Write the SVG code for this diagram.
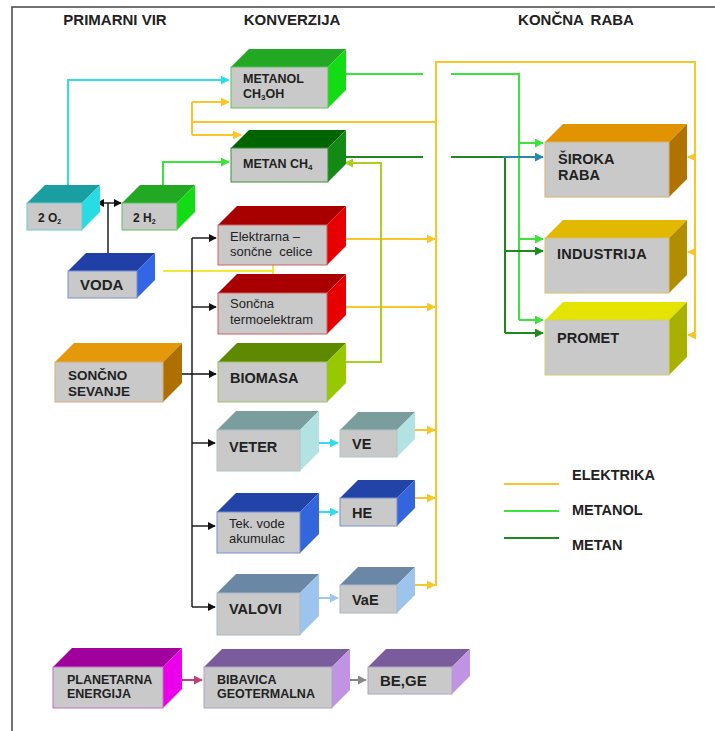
<svg xmlns="http://www.w3.org/2000/svg" width="715" height="731" viewBox="0 0 715 731">
<defs>
<style>
text{font-family:"Liberation Sans",Arial,sans-serif;fill:#222}
.hd{font-size:15px;font-weight:bold}
.b{font-weight:bold}
.f{fill:#c9c9c9;stroke-width:1}
.c{fill:none;stroke-width:2}
.k{stroke:#111;stroke-width:1.4;fill:none}
.y{stroke:#f7c62a}
.g{stroke:#3be43b}
.dg{stroke:#1e8a1e}
</style>
<marker id="ak" viewBox="0 0 10 10" refX="9" refY="5" markerWidth="8" markerHeight="8" markerUnits="userSpaceOnUse" orient="auto-start-reverse"><path d="M0,0L10,5L0,10z" fill="#111"/></marker>
<marker id="ay" viewBox="0 0 10 10" refX="9" refY="5" markerWidth="9" markerHeight="9" markerUnits="userSpaceOnUse" orient="auto"><path d="M0,0L10,5L0,10z" fill="#f7c62a"/></marker>
<marker id="ag" viewBox="0 0 10 10" refX="9" refY="5" markerWidth="9" markerHeight="9" markerUnits="userSpaceOnUse" orient="auto"><path d="M0,0L10,5L0,10z" fill="#3be43b"/></marker>
<marker id="adg" viewBox="0 0 10 10" refX="9" refY="5" markerWidth="9" markerHeight="9" markerUnits="userSpaceOnUse" orient="auto"><path d="M0,0L10,5L0,10z" fill="#1e8a1e"/></marker>
<marker id="ac" viewBox="0 0 10 10" refX="9" refY="5" markerWidth="9" markerHeight="9" markerUnits="userSpaceOnUse" orient="auto"><path d="M0,0L10,5L0,10z" fill="#33dcec"/></marker>
<marker id="at" viewBox="0 0 10 10" refX="9" refY="5" markerWidth="9" markerHeight="9" markerUnits="userSpaceOnUse" orient="auto"><path d="M0,0L10,5L0,10z" fill="#2a88aa"/></marker>
<marker id="ayg" viewBox="0 0 10 10" refX="9" refY="5" markerWidth="9" markerHeight="9" markerUnits="userSpaceOnUse" orient="auto"><path d="M0,0L10,5L0,10z" fill="#a8d020"/></marker>
<marker id="alb" viewBox="0 0 10 10" refX="9" refY="5" markerWidth="9" markerHeight="9" markerUnits="userSpaceOnUse" orient="auto"><path d="M0,0L10,5L0,10z" fill="#9cc8f0"/></marker>
<marker id="am" viewBox="0 0 10 10" refX="9" refY="5" markerWidth="9" markerHeight="9" markerUnits="userSpaceOnUse" orient="auto"><path d="M0,0L10,5L0,10z" fill="#c0407a"/></marker>
<marker id="agr" viewBox="0 0 10 10" refX="9" refY="5" markerWidth="9" markerHeight="9" markerUnits="userSpaceOnUse" orient="auto"><path d="M0,0L10,5L0,10z" fill="#888"/></marker>
</defs>
<rect width="715" height="731" fill="#fff"/>
<rect x="12" y="7" width="720" height="740" fill="none" stroke="#444" stroke-width="1.5"/>

<text class="hd" x="115" y="25" text-anchor="middle">PRIMARNI VIR</text>
<text class="hd" x="292" y="25" text-anchor="middle">KONVERZIJA</text>
<text class="hd" x="576" y="25" text-anchor="middle" word-spacing="3">KONČNA RABA</text>

<g id="connectors">
<path class="c" stroke="#33dcec" d="M68,185V80H229" marker-end="url(#ac)"/>
<path class="c g" d="M163,185V162H229" marker-end="url(#ag)"/>
<path class="k" d="M97,203H121" marker-start="url(#ak)" marker-end="url(#ak)"/>
<path class="k" d="M108,203V253"/>
<path class="c" stroke="#f2e838" d="M163,271H273M273,258V285"/>
<path class="k" d="M177,374H216" marker-end="url(#ak)"/>
<path class="k" d="M192,238V607"/>
<path class="k" d="M192,238H216" marker-end="url(#ak)"/>
<path class="k" d="M192,307H216" marker-end="url(#ak)"/>
<path class="k" d="M192,443H215" marker-end="url(#ak)"/>
<path class="k" d="M192,526H215" marker-end="url(#ak)"/>
<path class="k" d="M192,607H215" marker-end="url(#ak)"/>
<path class="c" stroke="#33dcec" d="M313,443H338" marker-end="url(#ac)"/>
<path class="c" stroke="#33dcec" d="M313,512H338" marker-end="url(#ac)"/>
<path class="c" stroke="#9cc8f0" d="M313,598H338" marker-end="url(#alb)"/>
<path class="c y" d="M408,430H435" marker-end="url(#ay)"/>
<path class="c y" d="M408,498H435" marker-end="url(#ay)"/>
<path class="c y" d="M408,585H435" marker-end="url(#ay)"/>
<path class="c y" d="M340,239H435" marker-end="url(#ay)"/>
<path class="c y" d="M340,307H435" marker-end="url(#ay)"/>
<path class="c y" d="M436,586V62H695V335"/>
<path class="c y" d="M695,157H688" marker-end="url(#ay)"/>
<path class="c y" d="M695,252H688" marker-end="url(#ay)"/>
<path class="c y" d="M695,335H688" marker-end="url(#ay)"/>
<path class="c y" d="M436,122H192M192,102V135"/>
<path class="c y" d="M192,102H229" marker-end="url(#ay)"/>
<path class="c y" d="M192,135H241" marker-end="url(#ay)"/>
<path class="c g" d="M346,74H423M451,74H519V320"/>
<path class="c g" d="M519,143H543" marker-end="url(#ag)"/>
<path class="c g" d="M519,239H543" marker-end="url(#ag)"/>
<path class="c g" d="M519,320H543" marker-end="url(#ag)"/>
<path class="c dg" d="M346,157H423M451,157H505V333"/>
<path class="c dg" d="M505,251H543" marker-end="url(#adg)"/>
<path class="c dg" d="M505,333H543" marker-end="url(#adg)"/>
<path class="c" stroke="#2a88aa" d="M503,157H543" marker-end="url(#at)"/>
<path class="c" stroke="#a8d020" d="M346,362H381V163H345" marker-end="url(#ayg)"/>
<path class="c" stroke="#c0407a" d="M182,680H202" marker-end="url(#am)"/>
<path class="c" stroke="#888" d="M350,680H366" marker-end="url(#agr)"/>
</g>

<g id="metanol">
<polygon points="231,67 249,49 346,49 328,67" fill="#22a822"/>
<polygon points="328,67 346,49 346,90 328,108" fill="#14dc14"/>
<rect class="f" x="231" y="67" width="97" height="41" stroke="#5fc05f"/>
<text class="b" font-size="12.5" x="243" y="83">METANOL</text>
<text class="b" font-size="12.5" x="243" y="98">CH<tspan font-size="8" dy="2">3</tspan><tspan dy="-2">OH</tspan></text>
</g>
<g id="metan">
<polygon points="231,148 249,130 346,130 328,148" fill="#006400"/>
<polygon points="328,148 346,130 346,164 328,182" fill="#138a13"/>
<rect class="f" x="231" y="148" width="97" height="34" stroke="#3f8f3f"/>
<text class="b" font-size="12.5" x="243" y="168">METAN CH<tspan font-size="8" dy="2">4</tspan></text>
</g>
<g id="o2">
<polygon points="27,203 45,185 100,185 82,203" fill="#1a9ea2"/>
<polygon points="82,203 100,185 100,212 82,230" fill="#27dce2"/>
<rect class="f" x="27" y="203" width="55" height="27" stroke="#6fc8cc"/>
<text class="b" font-size="12" x="38" y="222">2 O<tspan font-size="7" dy="2">2</tspan></text>
</g>
<g id="h2">
<polygon points="122,203 140,185 195,185 177,203" fill="#22a822"/>
<polygon points="177,203 195,185 195,212 177,230" fill="#14dc14"/>
<rect class="f" x="122" y="203" width="55" height="27" stroke="#5fc05f"/>
<text class="b" font-size="12" x="133" y="222">2 H<tspan font-size="7" dy="2">2</tspan></text>
</g>
<g id="voda">
<polygon points="68,271 86,253 155,253 137,271" fill="#2040a8"/>
<polygon points="137,271 155,253 155,280 137,298" fill="#3366e6"/>
<rect class="f" x="68" y="271" width="69" height="27" stroke="#7a8fd0"/>
<text class="b" font-size="15" x="80" y="290">VODA</text>
</g>
<g id="elektrarna">
<polygon points="218,225 237,206 346,206 327,225" fill="#a80000"/>
<polygon points="327,225 346,206 346,246 327,265" fill="#e80000"/>
<rect class="f" x="218" y="225" width="109" height="40" stroke="#d06060"/>
<text font-size="13" x="230" y="241">Elektrarna –</text>
<text font-size="13" x="230" y="256" xml:space="preserve">sončne  celice</text>
</g>
<g id="soncna">
<polygon points="218,293 237,274 346,274 327,293" fill="#a80000"/>
<polygon points="327,293 346,274 346,315 327,334" fill="#e80000"/>
<rect class="f" x="218" y="293" width="109" height="41" stroke="#d06060"/>
<text font-size="13" x="230" y="308">Sončna</text>
<text font-size="13" x="230" y="324">termoelektram</text>
</g>
<g id="biomasa">
<polygon points="218,362 237,343 346,343 327,362" fill="#5e8a00"/>
<polygon points="327,362 346,343 346,383 327,402" fill="#98c800"/>
<rect class="f" x="218" y="362" width="109" height="40" stroke="#a0c060"/>
<text class="b" font-size="14.5" x="230" y="383">BIOMASA</text>
</g>
<g id="soncno">
<polygon points="55,362 74,343 182,343 163,362" fill="#e4980a"/>
<polygon points="163,362 182,343 182,383 163,402" fill="#ae7000"/>
<rect class="f" x="55" y="362" width="108" height="40" stroke="#d8b070"/>
<text class="b" font-size="13.5" x="68" y="380">SONČNO</text>
<text class="b" font-size="13.5" x="68" y="396">SEVANJE</text>
</g>
<g id="veter">
<polygon points="217,430 236,411 319,411 300,430" fill="#7a9e9e"/>
<polygon points="300,430 319,411 319,452 300,471" fill="#b2e2e2"/>
<rect class="f" x="217" y="430" width="83" height="41" stroke="#b0c4c4"/>
<text class="b" font-size="14.5" x="229" y="452">VETER</text>
</g>
<g id="tekvode">
<polygon points="217,512 236,493 319,493 300,512" fill="#2244a8"/>
<polygon points="300,512 319,493 319,534 300,553" fill="#3366dc"/>
<rect class="f" x="217" y="512" width="83" height="41" stroke="#7a8fd0"/>
<text font-size="13" x="229" y="528">Tek. vode</text>
<text font-size="13" x="229" y="543">akumulac</text>
</g>
<g id="valovi">
<polygon points="217,593 236,574 319,574 300,593" fill="#6a88a6"/>
<polygon points="300,593 319,574 319,616 300,635" fill="#9cc4ec"/>
<rect class="f" x="217" y="593" width="83" height="42" stroke="#a8b8c8"/>
<text class="b" font-size="14.5" x="229" y="614">VALOVI</text>
</g>
<g id="ve">
<polygon points="340,430 358,412 415,412 397,430" fill="#7a9e9e"/>
<polygon points="397,430 415,412 415,439 397,457" fill="#b2e2e2"/>
<rect class="f" x="340" y="430" width="57" height="27" stroke="#b0c4c4"/>
<text class="b" font-size="14.5" x="352" y="449">VE</text>
</g>
<g id="he">
<polygon points="340,498 358,480 415,480 397,498" fill="#2244a8"/>
<polygon points="397,498 415,480 415,508 397,526" fill="#3366dc"/>
<rect class="f" x="340" y="498" width="57" height="28" stroke="#7a8fd0"/>
<text class="b" font-size="14.5" x="352" y="518">HE</text>
</g>
<g id="vae">
<polygon points="340,585 358,567 415,567 397,585" fill="#6a88a6"/>
<polygon points="397,585 415,567 415,595 397,613" fill="#9cc4ec"/>
<rect class="f" x="340" y="585" width="57" height="28" stroke="#a8b8c8"/>
<text class="b" font-size="14.5" x="352" y="605">VaE</text>
</g>
<g id="siroka">
<polygon points="545,142 563,124 687,124 669,142" fill="#e29400"/>
<polygon points="669,142 687,124 687,179 669,197" fill="#b07200"/>
<rect class="f" x="545" y="142" width="124" height="55" stroke="#d8b070"/>
<text class="b" font-size="14.5" x="558" y="164">ŠIROKA</text>
<text class="b" font-size="14.5" x="558" y="180">RABA</text>
</g>
<g id="industrija">
<polygon points="545,238 563,220 687,220 669,238" fill="#e2b800"/>
<polygon points="669,238 687,220 687,275 669,293" fill="#b08e00"/>
<rect class="f" x="545" y="238" width="124" height="55" stroke="#d8c070"/>
<text class="b" font-size="14.5" x="557" y="259" letter-spacing="0.3">INDUSTRIJA</text>
</g>
<g id="promet">
<polygon points="545,320 563,302 687,302 669,320" fill="#e4e400"/>
<polygon points="669,320 687,302 687,357 669,375" fill="#a8b000"/>
<rect class="f" x="545" y="320" width="124" height="55" stroke="#d0d070"/>
<text class="b" font-size="14.5" x="557" y="343">PROMET</text>
</g>
<g id="planetarna">
<polygon points="53,667 72,648 182,648 163,667" fill="#a0009c"/>
<polygon points="163,667 182,648 182,689 163,708" fill="#ec00ec"/>
<rect class="f" x="53" y="667" width="110" height="41" stroke="#c070c0"/>
<text class="b" font-size="12.5" x="67" y="684">PLANETARNA</text>
<text class="b" font-size="12.5" x="67" y="698">ENERGIJA</text>
</g>
<g id="bibavica">
<polygon points="204,667 222,649 350,649 332,667" fill="#7a5c9c"/>
<polygon points="332,667 350,649 350,690 332,708" fill="#c094e2"/>
<rect class="f" x="204" y="667" width="128" height="41" stroke="#b0a0c8"/>
<text class="b" font-size="12.5" x="217" y="684">BIBAVICA</text>
<text class="b" font-size="12.5" x="217" y="698">GEOTERMALNA</text>
</g>
<g id="bege">
<polygon points="368,667 386,649 470,649 452,667" fill="#7a5c9c"/>
<polygon points="452,667 470,649 470,676 452,694" fill="#c094e2"/>
<rect class="f" x="368" y="667" width="84" height="27" stroke="#b0a0c8"/>
<text class="b" font-size="15" x="380" y="686">BE,GE</text>
</g>

<g id="legend">
<line x1="504" y1="484" x2="559" y2="484" class="c y"/>
<line x1="504" y1="511" x2="559" y2="511" class="c g"/>
<line x1="504" y1="538" x2="559" y2="538" class="c dg"/>
<text class="b" font-size="14.5" x="572" y="480">ELEKTRIKA</text>
<text class="b" font-size="14.5" x="572" y="515">METANOL</text>
<text class="b" font-size="14.5" x="572" y="550">METAN</text>
</g>
</svg>
